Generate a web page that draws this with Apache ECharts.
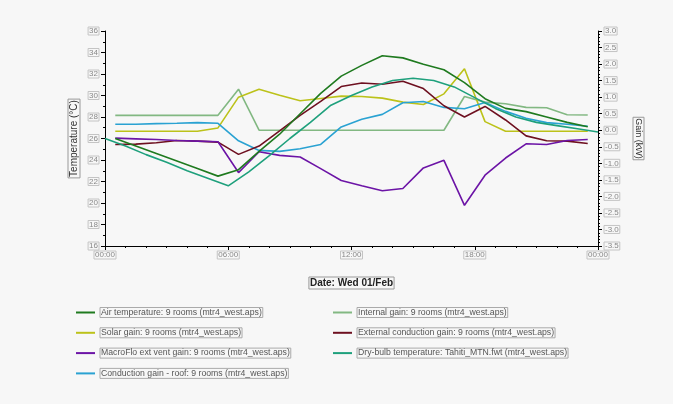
<!DOCTYPE html>
<html>
<head>
<meta charset="utf-8">
<script src="https://cdn.jsdelivr.net/npm/echarts@6/dist/echarts.min.js"></script>
<style>
  html, body { margin: 0; padding: 0; background: #f7f7f7; }
  #chart { width: 673px; height: 404px; }
</style>
</head>
<body>
<div id="chart"></div>
<script>
// Simulation hours: room results are reported at half-hour midpoints, weather at whole hours
const halfHours = [0.5, 1.5, 2.5, 3.5, 4.5, 5.5, 6.5, 7.5, 8.5, 9.5, 10.5, 11.5,
                   12.5, 13.5, 14.5, 15.5, 16.5, 17.5, 18.5, 19.5, 20.5, 21.5, 22.5, 23.5];
const wholeHours = [0, 1, 2, 3, 4, 5, 6, 7, 8, 9, 10, 11, 12,
                    13, 14, 15, 16, 17, 18, 19, 20, 21, 22, 23, 24];

// Temperatures (°C)
const airTemperature = [26.0, 25.3, 24.6, 23.9, 23.2, 22.5, 23.1, 24.8, 26.4, 28.3, 30.2, 31.8,
                        32.8, 33.7, 33.5, 32.9, 32.4, 31.2, 29.7, 28.8, 28.5, 28.0, 27.5, 27.1];
const dryBulbTemperature = [26.0, 25.3, 24.5, 23.8, 23.0, 22.3, 21.6, 22.9, 24.4, 26.0, 27.5, 29.1, 30.0,
                            30.8, 31.4, 31.6, 31.4, 30.8, 29.8, 28.8, 28.0, 27.5, 27.2, 26.9, 26.6];

// Gains (kW)
const internalGain = [0.45, 0.45, 0.45, 0.45, 0.45, 0.45, 1.24, 0.0, 0.0, 0.0, 0.0, 0.0,
                      0.0, 0.0, 0.0, 0.0, 0.0, 1.02, 0.85, 0.80, 0.69, 0.68, 0.47, 0.46];
const solarGain = [-0.03, -0.03, -0.03, -0.03, -0.03, 0.07, 1.0, 1.24, 1.06, 0.89, 0.96, 1.03,
                   1.02, 0.97, 0.85, 0.78, 1.1, 1.86, 0.26, -0.03, -0.03, -0.03, -0.03, -0.03];
const externalConductionGain = [-0.43, -0.42, -0.38, -0.31, -0.33, -0.36, -0.73, -0.48, -0.02, 0.45, 0.87, 1.32,
                                1.43, 1.39, 1.48, 1.26, 0.74, 0.40, 0.72, 0.31, -0.17, -0.32, -0.33, -0.40];
const macroFloVentGain = [-0.24, -0.26, -0.28, -0.31, -0.33, -0.35, -1.28, -0.65, -0.76, -0.81, -1.16, -1.52,
                          -1.68, -1.83, -1.76, -1.14, -0.91, -2.27, -1.36, -0.84, -0.41, -0.43, -0.31, -0.28];
const roofConductionGain = [0.18, 0.18, 0.2, 0.21, 0.23, 0.21, -0.32, -0.61, -0.64, -0.56, -0.43, 0.1,
                            0.33, 0.48, 0.83, 0.87, 0.69, 0.65, 0.84, 0.57, 0.36, 0.23, 0.18, 0.12];

// Axis tick labels
const hourLabels = { 0: '00:00', 6: '06:00', 12: '12:00', 18: '18:00', 24: '00:00' };

const names = {
  air: 'Air temperature: 9 rooms (mtr4_west.aps)',
  internal: 'Internal gain: 9 rooms (mtr4_west.aps)',
  solar: 'Solar gain: 9 rooms (mtr4_west.aps)',
  external: 'External conduction gain: 9 rooms (mtr4_west.aps)',
  macro: 'MacroFlo ext vent gain: 9 rooms (mtr4_west.aps)',
  dryBulb: 'Dry-bulb temperature: Tahiti_MTN.fwt (mtr4_west.aps)',
  roof: 'Conduction gain - roof: 9 rooms (mtr4_west.aps)'
};

const colors = {
  air: '#1f7a1f',
  internal: '#82b882',
  solar: '#bcc21a',
  external: '#6e1020',
  macro: '#6c14a6',
  dryBulb: '#1ea07c',
  roof: '#2aa2d2'
};

function pairs(xs, ys) { return xs.map((x, i) => [x, ys[i]]); }

function line(key, xs, ys, axis) {
  return {
    name: names[key],
    type: 'line',
    yAxisIndex: axis,
    data: pairs(xs, ys),
    showSymbol: false,
    symbol: 'none',
    lineStyle: { width: 1.6, color: colors[key] },
    itemStyle: { color: colors[key] },
    z: 3
  };
}

const font = '"Liberation Sans", Arial, sans-serif';
const tickLabelStyle = {
  fontFamily: font, fontSize: 8, color: '#888',
  borderColor: '#c4c4c4', borderWidth: 1, padding: [0, 1, 0, 1]
};
const legendText = {
  fontFamily: font, fontSize: 8.7, color: '#555',
  borderColor: '#aaa', borderWidth: 1, padding: [1, 1, 0, 1]
};

const chart = echarts.init(document.getElementById('chart'));
chart.setOption({
  animation: false,
  backgroundColor: '#f7f7f7',
  grid: { left: 105, right: 75, top: 31, height: 215, containLabel: false },
  xAxis: {
    type: 'value', min: 0, max: 24, interval: 6,
    name: 'Date: Wed 01/Feb', nameLocation: 'middle', nameGap: 31,
    nameTextStyle: { fontFamily: font, fontSize: 10, fontWeight: 'bold', color: '#222',
                     borderColor: '#999', borderWidth: 1, padding: [1, 1, 1, 1] },
    axisLine: { show: true, onZero: false, lineStyle: { color: '#000', width: 1 } },
    axisTick: { show: true, length: 4, lineStyle: { color: '#000' } },
    minorTick: { show: true, splitNumber: 6, length: 2, lineStyle: { color: '#000' } },
    splitLine: { show: false },
    axisLabel: Object.assign({ margin: 5, formatter: v => hourLabels[v] || '' }, tickLabelStyle)
  },
  yAxis: [
    {
      type: 'value', min: 16, max: 36, interval: 2, position: 'left',
      name: 'Temperature (°C)', nameLocation: 'middle', nameGap: 25, nameRotate: 90,
      nameMoveOverlap: false,
      nameTextStyle: { fontFamily: font, fontSize: 10, color: '#333',
                       borderColor: '#999', borderWidth: 1, padding: [1, 1, 1, 1] },
      axisLine: { show: true, onZero: false, lineStyle: { color: '#000', width: 1 } },
      axisTick: { show: true, length: 4, lineStyle: { color: '#000' } },
      minorTick: { show: true, splitNumber: 2, length: 2, lineStyle: { color: '#000' } },
      splitLine: { show: false },
      axisLabel: Object.assign({ margin: 6 }, tickLabelStyle)
    },
    {
      type: 'value', min: -3.5, max: 3.0, interval: 0.5, position: 'right',
      name: 'Gain (kW)', nameLocation: 'middle', nameGap: 35, nameRotate: -90,
      nameMoveOverlap: false,
      nameTextStyle: { fontFamily: font, fontSize: 9, color: '#333',
                       borderColor: '#999', borderWidth: 1, padding: [1, 1, 1, 1] },
      axisLine: { show: true, onZero: false, lineStyle: { color: '#000', width: 1 } },
      axisTick: { show: true, length: 4, lineStyle: { color: '#000' } },
      minorTick: { show: true, splitNumber: 5, length: 2, lineStyle: { color: '#000' } },
      splitLine: { show: false },
      axisLabel: Object.assign({ margin: 6, formatter: v => v.toFixed(1) }, tickLabelStyle)
    }
  ],
  legend: [
    {
      orient: 'vertical', left: 76, top: 307, itemGap: 9.3, padding: 0,
      itemWidth: 19, itemHeight: 2, icon: 'rect',
      data: [names.air, names.solar, names.macro, names.roof],
      textStyle: legendText
    },
    {
      orient: 'vertical', left: 333, top: 307, itemGap: 9.3, padding: 0,
      itemWidth: 19, itemHeight: 2, icon: 'rect',
      data: [names.internal, names.external, names.dryBulb],
      textStyle: legendText
    }
  ],
  series: [
    line('internal', halfHours, internalGain, 1),
    line('solar', halfHours, solarGain, 1),
    line('roof', halfHours, roofConductionGain, 1),
    line('external', halfHours, externalConductionGain, 1),
    line('macro', halfHours, macroFloVentGain, 1),
    line('dryBulb', wholeHours, dryBulbTemperature, 0),
    line('air', halfHours, airTemperature, 0)
  ]
});
</script>
</body>
</html>
